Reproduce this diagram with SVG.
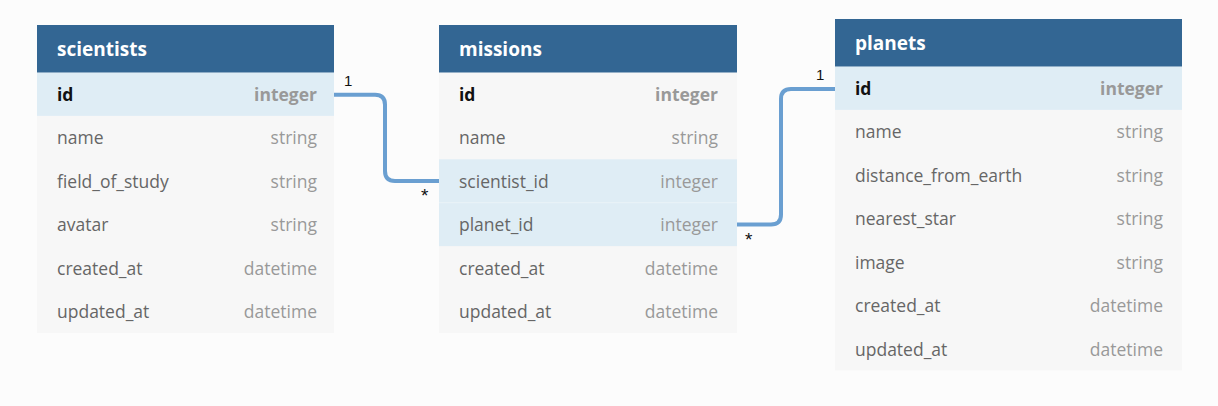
<svg xmlns="http://www.w3.org/2000/svg" width="1218" height="406" viewBox="0 0 1218 406">
<style>
.hdr{fill:#336693}
.row{fill:#f7f7f7}
.pk{fill:#dfedf5}
.sepk{stroke:#eaf3f8;stroke-width:1}
.title{font-family:"Open Sans","Liberation Sans",sans-serif;font-size:19px;font-weight:bold;fill:#ffffff}
.fn{font-family:"Open Sans","Liberation Sans",sans-serif;font-size:17.5px;fill:#666666}
.ft{font-family:"Open Sans","Liberation Sans",sans-serif;font-size:17.5px;fill:#999999;text-anchor:end}
.fnb{font-family:"Open Sans","Liberation Sans",sans-serif;font-size:17.5px;font-weight:bold;fill:#111111}
.ftb{font-family:"Open Sans","Liberation Sans",sans-serif;font-size:17.5px;font-weight:bold;fill:#999999;text-anchor:end}
.conn{fill:none;stroke:#6a9fd1;stroke-width:4}
.card{font-family:"Liberation Sans",Arial,sans-serif;font-size:15px;fill:#111111}
.star{font-family:"Liberation Sans",Arial,sans-serif;font-size:19px;fill:#111111}
</style>
<rect x="0" y="0" width="1218" height="406" fill="#fcfcfc"/>

<g id="scientists">
<rect class="row" x="37" y="72.5" width="297" height="260.5"/>
<rect class="pk" x="37" y="72.5" width="297" height="43.4"/>
<rect class="hdr" x="37" y="25" width="297" height="47.5"/>
<text class="title" x="57" y="56">scientists</text>
<text class="fnb" x="57" y="101">id</text><text class="ftb" x="317" y="101">integer</text>
<text class="fn" x="57" y="144">name</text><text class="ft" x="317" y="144">string</text>
<text class="fn" x="57" y="188">field_of_study</text><text class="ft" x="317" y="188">string</text>
<text class="fn" x="57" y="231">avatar</text><text class="ft" x="317" y="231">string</text>
<text class="fn" x="57" y="275">created_at</text><text class="ft" x="317" y="275">datetime</text>
<text class="fn" x="57" y="318">updated_at</text><text class="ft" x="317" y="318">datetime</text>
</g>

<g id="missions">
<rect class="row" x="439" y="72.5" width="298" height="260.5"/>
<rect class="pk" x="439" y="159.3" width="298" height="86.8"/>
<line class="sepk" x1="439" y1="202.7" x2="737" y2="202.7"/>
<rect class="hdr" x="439" y="25" width="298" height="47.5"/>
<text class="title" x="459" y="56">missions</text>
<text class="fnb" x="459" y="101">id</text><text class="ftb" x="718" y="101">integer</text>
<text class="fn" x="459" y="144">name</text><text class="ft" x="718" y="144">string</text>
<text class="fn" x="459" y="188">scientist_id</text><text class="ft" x="718" y="188">integer</text>
<text class="fn" x="459" y="231">planet_id</text><text class="ft" x="718" y="231">integer</text>
<text class="fn" x="459" y="275">created_at</text><text class="ft" x="718" y="275">datetime</text>
<text class="fn" x="459" y="318">updated_at</text><text class="ft" x="718" y="318">datetime</text>
</g>

<g id="planets">
<rect class="row" x="835" y="66.5" width="347" height="304"/>
<rect class="pk" x="835" y="66.5" width="347" height="43.4"/>
<rect class="hdr" x="835" y="19" width="347" height="47.5"/>
<text class="title" x="855" y="50">planets</text>
<text class="fnb" x="855" y="95">id</text><text class="ftb" x="1163" y="95">integer</text>
<text class="fn" x="855" y="138">name</text><text class="ft" x="1163" y="138">string</text>
<text class="fn" x="855" y="182">distance_from_earth</text><text class="ft" x="1163" y="182">string</text>
<text class="fn" x="855" y="225">nearest_star</text><text class="ft" x="1163" y="225">string</text>
<text class="fn" x="855" y="269">image</text><text class="ft" x="1163" y="269">string</text>
<text class="fn" x="855" y="312">created_at</text><text class="ft" x="1163" y="312">datetime</text>
<text class="fn" x="855" y="356">updated_at</text><text class="ft" x="1163" y="356">datetime</text>
</g>

<g id="connectors">
<path class="conn" d="M334 94.7 H375 Q385 94.7 385 104.7 V171 Q385 181 395 181 H439"/>
<path class="conn" d="M737 224.5 H771 Q781 224.5 781 214.5 V99 Q781 89 791 89 H835"/>
<text class="card" x="344" y="86">1</text>
<text class="star" x="421" y="202">*</text>
<text class="card" x="816" y="80">1</text>
<text class="star" x="745" y="246">*</text>
</g>
</svg>
